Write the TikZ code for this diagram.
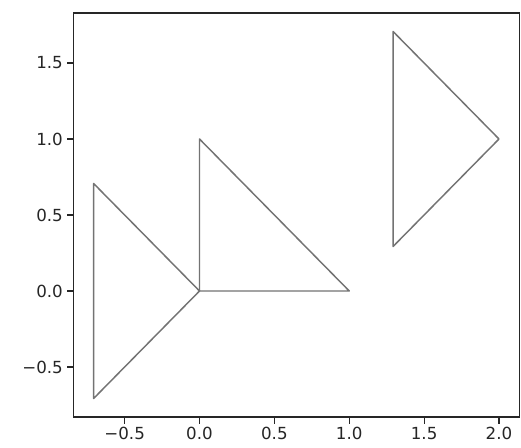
\documentclass[tikz,border=0pt]{standalone}
\usepackage{fontspec}
\setmainfont{DejaVu Sans}
\begin{document}
\begin{tikzpicture}[x=0.75pt,y=-0.75pt,
  tri/.style={draw=black!55,line width=1.1pt,line join=round},
  frame/.style={draw=black!85,line width=1pt},
  tick/.style={draw=black!85,line width=0.8pt},
  lab/.style={font=\fontsize{12.5}{14}\selectfont,text=black!85,inner sep=2.5pt}]
\useasboundingbox (0,0) rectangle (521,448);
\fill[white] (0,0) rectangle (521,448);
\begin{scope}[shift={(149.625pt,-218.25pt)},x=112.3pt,y=114pt]
  % data coordinates
  \coordinate (ll) at (-0.842,-0.828);
  \coordinate (ur) at (2.135,1.828);
  % triangles
  \coordinate (a0) at (0,0);
  \coordinate (a1) at (1,0);
  \coordinate (a2) at (0,1);
  \draw[tri] (a0) -- (a1) -- (a2) -- cycle;
  \coordinate (b1) at (-0.7071,0.7071);
  \coordinate (b2) at (-0.7071,-0.7071);
  \draw[tri] (a0) -- (b1) -- (b2) -- cycle;
  \coordinate (c0) at (2,1);
  \coordinate (c1) at (1.2929,1.7071);
  \coordinate (c2) at (1.2929,0.2929);
  \draw[tri] (c0) -- (c1) -- (c2) -- cycle;
  % frame
  \draw[frame] (ll) rectangle (ur);
  % x ticks
  \foreach \v/\t in {-0.5/{−0.5},0/0.0,0.5/0.5,1/1.0,1.5/1.5,2/2.0}{
    \draw[tick] (\v,-0.828) -- ++(0,-0.044) node[lab,below] {\t};
  }
  % y ticks
  \foreach \v/\t in {-0.5/{−0.5},0/0.0,0.5/0.5,1/1.0,1.5/1.5}{
    \draw[tick] (-0.842,\v) -- ++(-0.045,0) node[lab,left] {\t};
  }
\end{scope}
\end{tikzpicture}
\end{document}
